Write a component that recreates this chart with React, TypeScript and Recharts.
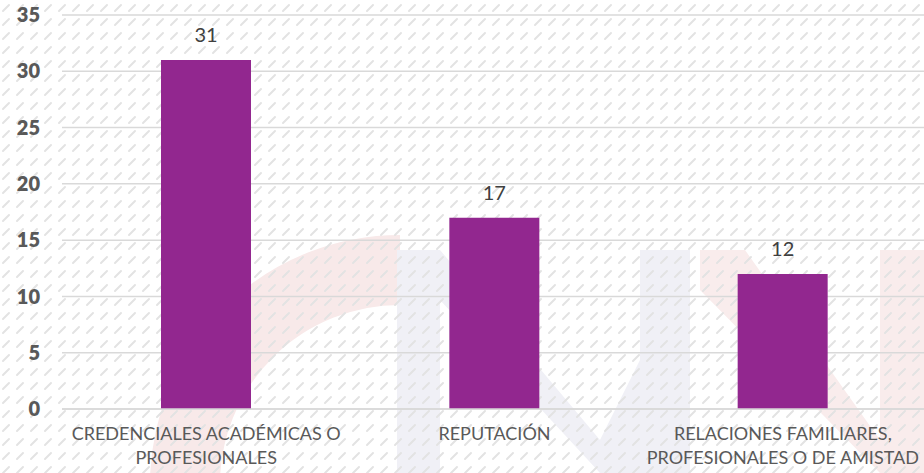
import React from 'react';
import { BarChart, Bar, XAxis, YAxis, CartesianGrid, LabelList } from 'recharts';

const categories = [
  'CREDENCIALES ACADÉMICAS O PROFESIONALES',
  'REPUTACIÓN',
  'RELACIONES FAMILIARES, PROFESIONALES O DE AMISTAD',
];
const values = [31, 17, 12];
const yTicks = [0, 5, 10, 15, 20, 25, 30, 35];

const data = categories.map((name, i) => ({ name, value: values[i] }));

const FONT = 'Lato, "Open Sans", sans-serif';

// split a long category into lines of ~26 characters
const wrap = (text: string, max = 26) => {
  const lines: string[] = [];
  let line = '';
  text.split(' ').forEach((word) => {
    const next = line ? line + ' ' + word : word;
    if (next.length > max && line) {
      lines.push(line);
      line = word;
    } else {
      line = next;
    }
  });
  if (line) lines.push(line);
  return lines;
};

const CategoryTick = (props: any) => {
  const { x, y, payload } = props;
  const lines = wrap(payload.value);
  return (
    <text x={x} y={y} textAnchor="middle" fill="#595959" fontSize={18} fontFamily={FONT}>
      {lines.map((l, i) => (
        <tspan key={i} x={x} dy={i === 0 ? 23 : 24}>
          {l}
        </tspan>
      ))}
    </text>
  );
};

// faint logo watermark behind the plot
const Watermark = () => (
  <svg width={924} height={473} style={{ position: 'absolute', left: 0, top: 0 }}>
    <defs>
      <pattern id="wmHatch" width="14" height="14" patternUnits="userSpaceOnUse">
        <line x1="3" y1="11" x2="9" y2="5" stroke="#e3e3e3" strokeWidth="2" strokeLinecap="round" />
      </pattern>
    </defs>
    <path d="M 400 270 A 215 215 0 1 0 400 700" fill="none" stroke="#f8e9e9" strokeWidth="70" />
    <polygon
      points="397,250 440,250 600,440 640,360 640,250 690,250 690,473 640,473 600,473 440,300 440,473 397,473"
      fill="#f0f0f6"
    />
    <polygon points="700,250 745,250 880,440 880,250 924,250 924,473 880,473 700,290" fill="#f9ecec" />
    <rect x={0} y={0} width={924} height={473} fill="url(#wmHatch)" />
  </svg>
);

export default function App() {
  return (
    <div
      style={{
        position: 'absolute',
        left: 0,
        top: 0,
        width: 924,
        height: 473,
        overflow: 'hidden',
        background: '#fff',
      }}
    >
      <Watermark />
      <div style={{ position: 'absolute', left: 0, top: 0 }}>
        <BarChart width={927} height={473} data={data} margin={{ top: 15, right: 0, bottom: 4, left: 0 }}>
          <CartesianGrid vertical={false} stroke="#d9d9d9" strokeWidth={1.5} />
          <XAxis
            dataKey="name"
            height={60}
            axisLine={{ stroke: '#d9d9d9', strokeWidth: 1.5 }}
            tickLine={false}
            interval={0}
            tick={<CategoryTick />}
          />
          <YAxis
            width={62}
            domain={[0, 35]}
            ticks={yTicks}
            axisLine={false}
            tickLine={false}
            tickSize={0}
            tickMargin={22}
            tick={{ fill: '#595959', fontSize: 20, fontWeight: 800, fontFamily: FONT }}
          />
          <Bar dataKey="value" fill="#92278F" barSize={90} isAnimationActive={false}>
            <LabelList
              dataKey="value"
              position="top"
              offset={18}
              fill="#404040"
              fontSize={20}
              fontFamily={FONT}
            />
          </Bar>
        </BarChart>
      </div>
    </div>
  );
}
